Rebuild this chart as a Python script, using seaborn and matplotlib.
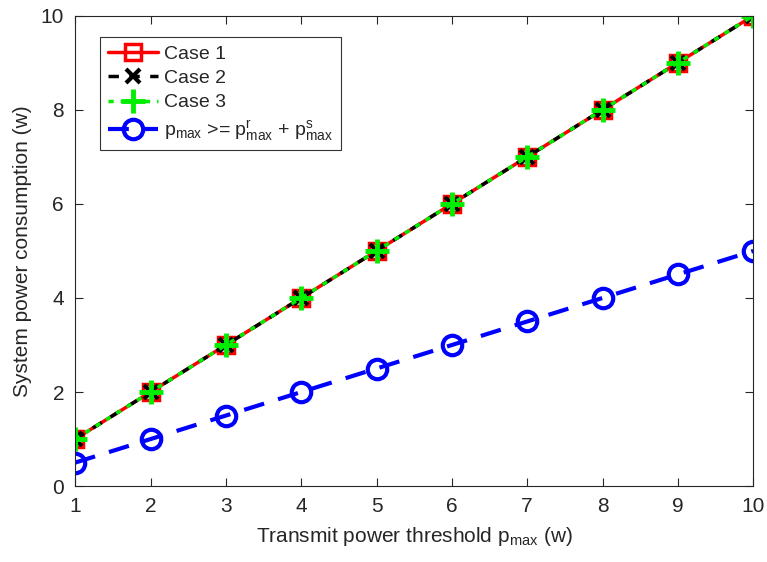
import numpy as np
import pandas as pd
import matplotlib
matplotlib.use("Agg")
import matplotlib.pyplot as plt
import seaborn as sns

# data
pmax = [1, 2, 3, 4, 5, 6, 7, 8, 9, 10]
case1 = [1, 2, 3, 4, 5, 6, 7, 8, 9, 10]
case2 = [1, 2, 3, 4, 5, 6, 7, 8, 9, 10]
case3 = [1, 2, 3, 4, 5, 6, 7, 8, 9, 10]
bound = [0.5, 1.0, 1.5, 2.0, 2.5, 3.0, 3.5, 4.0, 4.5, 5.0]

sns.set_style("ticks")
plt.rcParams['font.family'] = ['Liberation Sans', 'DejaVu Sans']
plt.rcParams['mathtext.fontset'] = 'custom'
plt.rcParams['mathtext.rm'] = 'Liberation Sans'
plt.rcParams['mathtext.it'] = 'Liberation Sans'

fig = plt.figure(figsize=(7.67, 5.62), dpi=100)
ax = fig.add_axes([0.098, 0.135, 0.884, 0.837])

sns.lineplot(x=pmax, y=case1, ax=ax, color='red', lw=2.5, marker='s', ms=11,
             mfc='none', mec='red', mew=2.5, label='Case 1')
sns.lineplot(x=pmax, y=case2, ax=ax, color='black', lw=2.5, ls=(0, (3, 3)), marker='x',
             ms=10, mec='black', mew=3, label='Case 2')
sns.lineplot(x=pmax, y=case3, ax=ax, color='#00ee00', lw=2.5, ls=(0, (1.5, 2)), marker='+',
             ms=17, mec='#00ee00', mew=3.5, label='Case 3')
sns.lineplot(x=pmax, y=bound, ax=ax, color='blue', lw=3, ls=(0, (5, 3.5)), marker='o',
             ms=14, mfc='none', mec='blue', mew=3,
             label=r'$\mathregular{p_{max}}$ >= $\mathregular{p^r_{max}}$ + $\mathregular{p^s_{max}}$')

ax.set_xlim(1, 10)
ax.set_ylim(0, 10)
ax.set_xticks(range(1, 11))
ax.set_yticks(range(0, 11, 2))
ax.tick_params(direction='in', labelsize=15, length=6, width=0.8, colors='#262626',
               top=True, right=True, pad=8)
for s in ax.spines.values():
    s.set_visible(True)
    s.set_linewidth(0.8)
    s.set_color('#262626')

ax.set_xlabel(r'Transmit power threshold $\mathregular{p_{max}}$ (w)', fontsize=15,
              color='#262626', labelpad=6)
ax.set_ylabel('System power consumption (w)', fontsize=15, color='#262626', labelpad=6)

leg = ax.legend(loc='upper left', bbox_to_anchor=(0.022, 0.975), fontsize=14, frameon=True,
                fancybox=False, edgecolor='black', handlelength=2.6, borderpad=0.4,
                labelspacing=0.35, handletextpad=0.3)
leg.get_frame().set_linewidth(0.8)

fig.savefig('out.png', dpi=100)
